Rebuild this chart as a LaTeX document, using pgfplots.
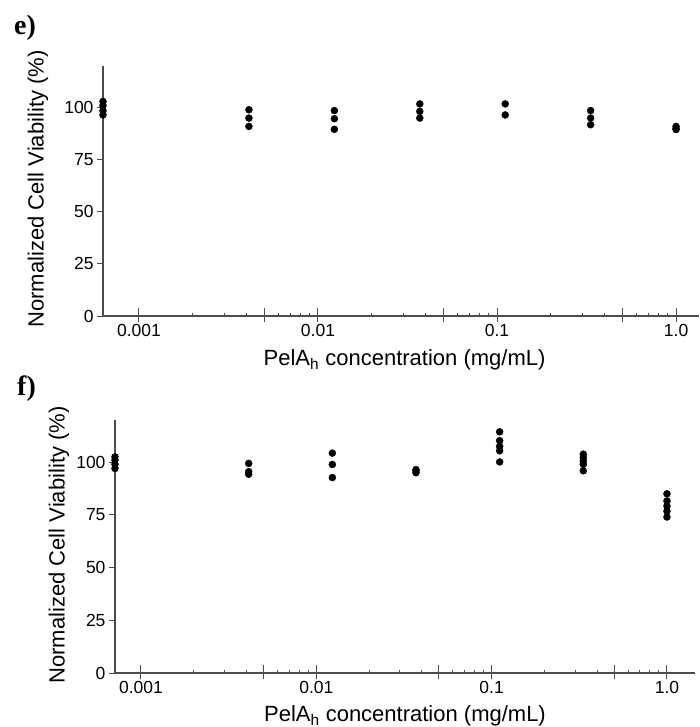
\documentclass[border=0pt]{standalone}
\usepackage{pgfplots}
\pgfplotsset{compat=1.18}
\usepackage{fontspec}
\setmainfont{Liberation Sans}
\newfontfamily\serifbold{Liberation Serif}
\begin{document}
\begin{tikzpicture}
\path[use as bounding box] (0pt,0pt) rectangle (699pt,-727pt);
% panel e
\begin{semilogxaxis}[
  scale only axis,
  at={(103pt,-316pt)}, anchor=south west,
  width=596pt, height=250pt,
  xmin=0.00063, xmax=1.343,
  ymin=0, ymax=120,
  axis lines=left,
  clip=true, clip mode=individual,
  axis line style={-, line width=1.2pt, color=black!70},
  major tick length=6pt,
  minor tick length=3.5pt,
  ytick={0,25,50,75,100},
  ytick align=outside,
  xtick align=inside,
  every tick/.append style={line width=1pt, color=black!70},
  major x tick style={/pgfplots/major tick length=14pt, yshift=-6pt},
  xtick={0.001,0.01,0.1,1},
  xticklabels={0.001,0.01,0.1,1.0},
  extra x ticks={0.005,0.05,0.5},
  extra x tick labels={},
  extra x tick style={/pgfplots/major tick length=7pt},
  /pgf/number format/assume math mode=true,
  tick label style={font=\fontsize{17.5}{20}\selectfont},
  xticklabel style={yshift=-5pt},
  label style={font=\fontsize{22}{26}\selectfont},
  ylabel={Normalized Cell Viability (\%)},
  xlabel={PelA\textsubscript{h} concentration (mg/mL)},
  ylabel style={at={(axis description cs:-0.109,0.508)}, anchor=center},
  xlabel style={at={(axis description cs:0.506,-0.196)}, anchor=base},
]
\addplot[only marks, mark=*, mark size=3.5pt, black] coordinates {
 (0.00063,96.5) (0.00063,98.5) (0.00063,101) (0.00063,103)
 (0.004115,99) (0.004115,95) (0.004115,91)
 (0.012346,98.6) (0.012346,94.7) (0.012346,89.6)
 (0.037037,101.8) (0.037037,98.2) (0.037037,95)
 (0.111111,101.8) (0.111111,96.5)
 (0.333333,98.6) (0.333333,95) (0.333333,91.8)
 (1,91) (1,90) (1,89.5)
};
\end{semilogxaxis}
% panel f
\begin{semilogxaxis}[
  scale only axis,
  at={(115pt,-673pt)}, anchor=south west,
  width=580pt, height=253pt,
  xmin=0.000711, xmax=1.445,
  ymin=0, ymax=120,
  axis lines=left,
  clip=true, clip mode=individual,
  axis line style={-, line width=1.2pt, color=black!70},
  major tick length=6pt,
  minor tick length=3.5pt,
  ytick={0,25,50,75,100},
  ytick align=outside,
  xtick align=inside,
  every tick/.append style={line width=1pt, color=black!70},
  major x tick style={/pgfplots/major tick length=14pt, yshift=-6pt},
  xtick={0.001,0.01,0.1,1},
  xticklabels={0.001,0.01,0.1,1.0},
  extra x ticks={0.005,0.05,0.5},
  extra x tick labels={},
  extra x tick style={/pgfplots/major tick length=7pt},
  /pgf/number format/assume math mode=true,
  tick label style={font=\fontsize{17.5}{20}\selectfont},
  xticklabel style={yshift=-5pt},
  label style={font=\fontsize{22}{26}\selectfont},
  ylabel={Normalized Cell Viability (\%)},
  xlabel={PelA\textsubscript{h} concentration (mg/mL)},
  ylabel style={at={(axis description cs:-0.0966,0.506)}, anchor=center},
  xlabel style={at={(axis description cs:0.5,-0.19)}, anchor=base},
]
\addplot[only marks, mark=*, mark size=3.5pt, black] coordinates {
 (0.000711,97) (0.000711,99) (0.000711,101) (0.000711,102.5)
 (0.004115,99.4) (0.004115,95.5) (0.004115,94.3)
 (0.012346,104.3) (0.012346,98.9) (0.012346,92.7)
 (0.037037,96.5) (0.037037,96) (0.037037,95)
 (0.111111,114.4) (0.111111,110.2) (0.111111,107.5) (0.111111,105.4) (0.111111,100.1)
 (0.333333,103.8) (0.333333,102.2) (0.333333,100.6) (0.333333,99) (0.333333,95.9)
 (1,85) (1,81.6) (1,79.2) (1,76.8) (1,74)
};
\end{semilogxaxis}
\node[anchor=base west, inner sep=0pt, font=\serifbold\bfseries\fontsize{28}{30}\selectfont] at (14pt,-35pt) {e)};
\node[anchor=base west, inner sep=0pt, font=\serifbold\bfseries\fontsize{28}{30}\selectfont] at (17pt,-395pt) {f)};
\end{tikzpicture}
\end{document}
